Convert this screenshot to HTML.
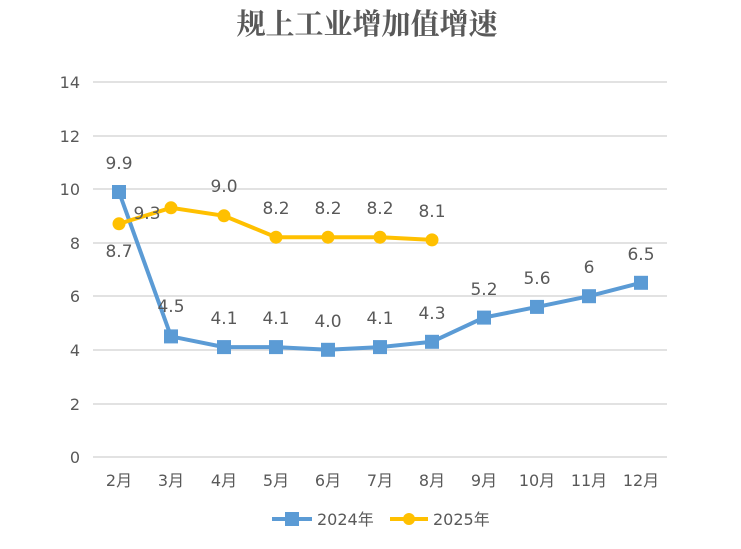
<!DOCTYPE html><html><head><meta charset="utf-8"><style>body{margin:0;background:#fff}svg text{font-family:"DejaVu Sans","Noto Sans CJK SC",sans-serif;fill:#595959}</style></head><body>
<svg width="741" height="544" xmlns="http://www.w3.org/2000/svg">
<text x="367" y="34" text-anchor="middle" style="font-family:'Noto Serif CJK SC','Noto Sans CJK SC',serif;font-size:29px;font-weight:bold;fill:#595959">规上工业增加值增速</text>
<g stroke="#d9d9d9" stroke-width="1.5">
<line x1="93" x2="667" y1="82" y2="82"/><line x1="93" x2="667" y1="136" y2="136"/><line x1="93" x2="667" y1="189" y2="189"/><line x1="93" x2="667" y1="243" y2="243"/><line x1="93" x2="667" y1="296" y2="296"/><line x1="93" x2="667" y1="350" y2="350"/><line x1="93" x2="667" y1="404" y2="404"/><line x1="93" x2="667" y1="457" y2="457"/></g>
<g font-size="16" text-anchor="end"><text x="80" y="88">14</text><text x="80" y="142">12</text><text x="80" y="195">10</text><text x="80" y="249">8</text><text x="80" y="302">6</text><text x="80" y="356">4</text><text x="80" y="410">2</text><text x="80" y="463">0</text></g>
<g font-size="16" text-anchor="middle"><text x="119" y="486">2月</text><text x="171" y="486">3月</text><text x="224" y="486">4月</text><text x="276" y="486">5月</text><text x="328" y="486">6月</text><text x="380" y="486">7月</text><text x="432" y="486">8月</text><text x="484" y="486">9月</text><text x="537" y="486">10月</text><text x="589" y="486">11月</text><text x="641" y="486">12月</text></g>
<polyline fill="none" stroke="#5b9bd5" stroke-width="4" points="119,192 171,336.4 224,347.1 276,347.1 328,349.8 380,347.1 432,341.8 484,317.6 537,306.9 589,296.2 641,282.8"/>
<g fill="#5b9bd5"><rect x="112" y="185" width="14" height="14"/><rect x="164" y="329.4" width="14" height="14"/><rect x="217" y="340.1" width="14" height="14"/><rect x="269" y="340.1" width="14" height="14"/><rect x="321" y="342.8" width="14" height="14"/><rect x="373" y="340.1" width="14" height="14"/><rect x="425" y="334.8" width="14" height="14"/><rect x="477" y="310.6" width="14" height="14"/><rect x="530" y="299.9" width="14" height="14"/><rect x="582" y="289.2" width="14" height="14"/><rect x="634" y="275.8" width="14" height="14"/></g>
<polyline fill="none" stroke="#ffc000" stroke-width="4" points="119,223.8 171,207.8 224,215.8 276,237.2 328,237.2 380,237.2 432,239.9"/>
<g fill="#ffc000"><circle cx="119" cy="223.8" r="6.5"/><circle cx="171" cy="207.8" r="6.5"/><circle cx="224" cy="215.8" r="6.5"/><circle cx="276" cy="237.2" r="6.5"/><circle cx="328" cy="237.2" r="6.5"/><circle cx="380" cy="237.2" r="6.5"/><circle cx="432" cy="239.9" r="6.5"/></g>
<g font-size="17" text-anchor="middle" style="fill:#404040">
<text x="119" y="169">9.9</text><text x="171" y="312">4.5</text><text x="224" y="324">4.1</text><text x="276" y="324">4.1</text><text x="328" y="327">4.0</text><text x="380" y="324">4.1</text><text x="432" y="319">4.3</text><text x="484" y="295">5.2</text><text x="537" y="284">5.6</text><text x="589" y="273">6</text><text x="641" y="260">6.5</text>
<text x="119" y="257">8.7</text><text x="147" y="219">9.3</text><text x="224" y="192">9.0</text><text x="276" y="214">8.2</text><text x="328" y="214">8.2</text><text x="380" y="214">8.2</text><text x="432" y="217">8.1</text></g>
<line x1="272" x2="312" y1="519" y2="519" stroke="#5b9bd5" stroke-width="4"/><rect x="285" y="512" width="14" height="14" fill="#5b9bd5"/>
<text x="317" y="525" font-size="16">2024年</text>
<line x1="390" x2="428" y1="519" y2="519" stroke="#ffc000" stroke-width="4"/><circle cx="409" cy="519" r="6" fill="#ffc000"/>
<text x="433" y="525" font-size="16">2025年</text>
</svg></body></html>
